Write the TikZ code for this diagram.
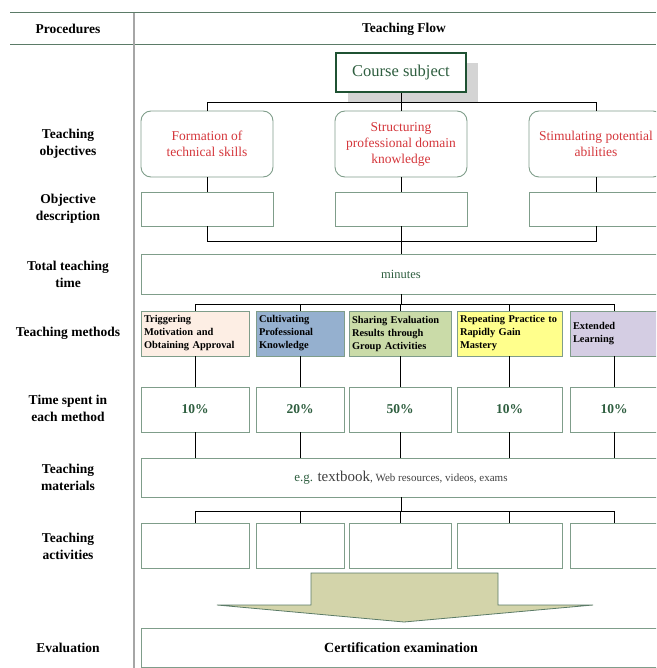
\documentclass[tikz,border=0pt]{standalone}
\usepackage{fontspec}
\setmainfont{Liberation Serif}
\usepackage{tikz}
\usetikzlibrary{shapes,arrows}
\usetikzlibrary{positioning,shadows}
\definecolor{tgreen}{HTML}{2E5E3F}
\definecolor{sgreen}{HTML}{1F5233}
\definecolor{tred}{HTML}{D4363B}
\definecolor{tborder}{HTML}{7F9D8A}
\definecolor{tline}{HTML}{5B7B67}
\definecolor{fpeach}{HTML}{FDEEE4}
\definecolor{fblue}{HTML}{95B0CF}
\definecolor{fgreen}{HTML}{CADBA8}
\definecolor{fyellow}{HTML}{FFFF8C}
\definecolor{flilac}{HTML}{D4CDE3}
\definecolor{fkhaki}{HTML}{D3D4AA}
\tikzstyle{conn} = [black, line width=0.7pt]
\tikzstyle{rule} = [draw=tline, line width=1pt]
\tikzstyle{divider} = [draw=gray!70, line width=1.8pt]
\tikzstyle{proc} = [align=center, font=\bfseries\fontsize{13.5}{17}\selectfont]
\tikzstyle{plainbox} = [rectangle, draw=tborder, line width=0.9pt, inner sep=2pt]
\tikzstyle{objbox} = [
    plainbox, rounded corners=10pt, minimum width=132pt, minimum height=66pt,
    text=tred, align=center, font=\fontsize{13.5}{16}\selectfont]
\tikzstyle{descbox} = [plainbox, minimum width=132pt, minimum height=34pt]
\tikzstyle{widebox} = [plainbox, minimum width=520pt, minimum height=39pt]
\tikzstyle{methodbox} = [
    plainbox, minimum height=45pt, align=left, inner xsep=3pt,
    font=\bfseries\fontsize{10.4}{13}\selectfont]
\tikzstyle{timebox} = [
    plainbox, minimum height=45pt, text=tgreen,
    font=\bfseries\fontsize{13.5}{15}\selectfont]
\tikzstyle{actbox} = [plainbox, minimum height=45pt]
\tikzstyle{bigarrow} = [draw=tline, line width=0.8pt, fill=fkhaki]

\begin{document}
\begin{tikzpicture}[x=1pt, y=-1pt]
\useasboundingbox (0,0) rectangle (656,668);
\clip (0,0) rectangle (656,668);

% table frame
\draw [rule] (10,13) -- (656,13);
\draw [rule] (10,45) -- (656,45);
\draw [divider] (134,13) -- (134,668);

\node (hproc) [proc] at (68,29) {Procedures};
\node (hflow) [proc] at (404,29) {Teaching Flow};

% procedures column
\node (lobj) [proc] at (68,143.5) {Teaching\\objectives};
\node (ldesc) [proc] at (68,208.5) {Objective\\description};
\node (ltime) [proc] at (68,274.5) {Total teaching\\time};
\node (lmeth) [proc] at (68,333.5) {Teaching methods};
\node (lspent) [proc] at (68,408.5) {Time spent in\\each method};
\node (lmat) [proc] at (68,477.5) {Teaching\\materials};
\node (lact) [proc] at (68,546.5) {Teaching\\activities};
\node (leval) [proc] at (68,647.5) {Evaluation};

% teaching flow
\node (subject) [rectangle, draw=sgreen, line width=2.4pt, fill=white,
    minimum width=130pt, minimum height=39pt, text=tgreen,
    font=\fontsize{16.5}{18}\selectfont,
    drop shadow={shadow xshift=12pt, shadow yshift=-10pt, fill=black!17, opacity=1}]
    at (401,72.5) {Course subject};

\node (obj1) [objbox] at (207,144) {Formation of\\technical skills};
\node (obj2) [objbox] at (401,144) {Structuring\\professional domain\\knowledge};
\node (obj3) [objbox, minimum width=134pt] at (596,144) {Stimulating potential\\abilities};

\node (desc1) [descbox] at (207,209) {};
\node (desc2) [descbox] at (401,209) {};
\node (desc3) [descbox, minimum width=134pt] at (596,209) {};

\node (minutes) [widebox, minimum height=40pt, text=tgreen,
    font=\fontsize{12.5}{15}\selectfont] at (401,274) {minutes};

\node (m1) [methodbox, fill=fpeach, text width=102pt] at (195,333.5)
    {Triggering\\Motivation and\\Obtaining Approval};
\node (m2) [methodbox, fill=fblue, text width=82pt] at (300,333.5)
    {Cultivating\\Professional\\Knowledge};
\node (m3) [methodbox, fill=fgreen, text width=96pt] at (400,333.5)
    {Sharing Evaluation\\Results through\\Group Activities};
\node (m4) [methodbox, fill=fyellow, text width=99pt] at (509.5,333.5)
    {Repeating Practice to\\Rapidly Gain\\Mastery};
\node (m5) [methodbox, fill=flilac, text width=82pt] at (614,333.5)
    {Extended\\Learning};

\node (p1) [timebox, minimum width=108pt] at (195,409.5) {10\%};
\node (p2) [timebox, minimum width=88pt] at (300,409.5) {20\%};
\node (p3) [timebox, minimum width=102pt] at (400,409.5) {50\%};
\node (p4) [timebox, minimum width=105pt] at (509.5,409.5) {10\%};
\node (p5) [timebox, minimum width=88pt] at (614,409.5) {10\%};

\node (mat) [widebox, text=black!75, font=\fontsize{13}{15}\selectfont] at (401,477.5)
    {{\color{tgreen}e.g.} {\fontsize{15}{16}\selectfont textbook}{\fontsize{11}{12}\selectfont, Web resources, videos, exams}};

\node (a1) [actbox, minimum width=108pt] at (195,545.5) {};
\node (a2) [actbox, minimum width=88pt] at (300,545.5) {};
\node (a3) [actbox, minimum width=102pt] at (400,545.5) {};
\node (a4) [actbox, minimum width=105pt] at (509.5,545.5) {};
\node (a5) [actbox, minimum width=88pt] at (614,545.5) {};

\draw [bigarrow] (311,573) -- (498,573) -- (498,605) -- (593,605)
    -- (404,622) -- (217,605) -- (311,605) -- cycle;

\node (eval) [widebox, font=\bfseries\fontsize{14}{16}\selectfont] at (401,647.5)
    {Certification examination};

% connectors
\coordinate (b1) at (401,102.5);
\draw [conn] (subject) -- (b1);
\draw [conn] (b1) -| (obj1);
\draw [conn] (b1) -- (obj2);
\draw [conn] (b1) -| (obj3);
\draw [conn] (obj1) -- (desc1);
\draw [conn] (obj2) -- (desc2);
\draw [conn] (obj3) -- (desc3);

\coordinate (j1) at (401,241.5);
\draw [conn] (desc1) |- (j1);
\draw [conn] (desc3) |- (j1);
\draw [conn] (desc2) -- (minutes);

\coordinate (b2) at (401,304);
\draw [conn] (minutes) -- (b2);
\foreach \m in {m1,m2,m3,m4,m5}
    \draw [conn] (b2) -| (\m);
\foreach \i in {1,...,5} {
    \draw [conn] (m\i) -- (p\i);
    \draw [conn] (p\i.south) -- (p\i.south |- mat.north);
}

\coordinate (b3) at (401,511);
\draw [conn] (mat) -- (b3);
\foreach \a in {a1,a2,a3,a4,a5}
    \draw [conn] (b3) -| (\a);
\end{tikzpicture}
\end{document}
